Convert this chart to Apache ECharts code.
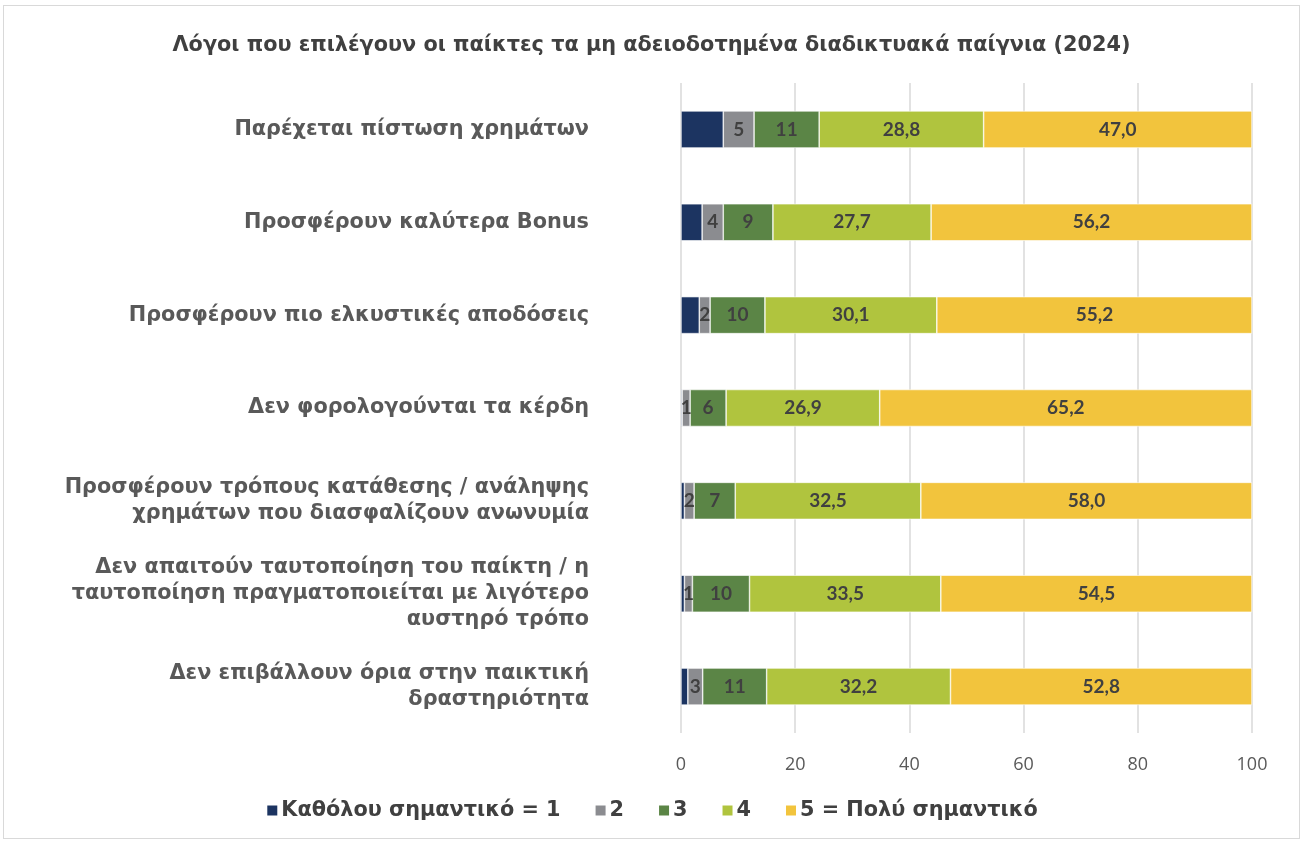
<!DOCTYPE html>
<html>
<head>
<meta charset="utf-8">
<script src="https://cdn.jsdelivr.net/npm/echarts@6/dist/echarts.min.js"></script>
<style>
  html, body { margin: 0; padding: 0; background: #fff; }
  #main { position: absolute; left: 3px; top: 5px; width: 1297px; height: 834px; border: 1px solid #d9d9d9; box-sizing: border-box; }
</style>
</head>
<body>
<div id="main"></div>
<script>
  // κατηγορίες (από πάνω προς τα κάτω)
  var categories = [
    'Παρέχεται πίστωση χρημάτων',
    'Προσφέρουν καλύτερα Bonus',
    'Προσφέρουν πιο ελκυστικές αποδόσεις',
    'Δεν φορολογούνται τα κέρδη',
    'Προσφέρουν τρόπους κατάθεσης / ανάληψης\nχρημάτων που διασφαλίζουν ανωνυμία',
    'Δεν απαιτούν ταυτοποίηση του παίκτη / η\nταυτοποίηση πραγματοποιείται με λιγότερο\nαυστηρό τρόπο',
    'Δεν επιβάλλουν όρια στην παικτική\nδραστηριότητα'
  ];
  var seriesNames = ['Καθόλου σημαντικό = 1', '2', '3', '4', '5 = Πολύ σημαντικό'];
  var s1 = [7.4, 3.7, 3.2, 0.2, 0.6, 0.6, 1.2];
  var s2 = [5.4, 3.7, 1.9, 1.4, 1.7, 1.4, 2.6];
  var s3 = [11.4, 8.7, 9.6, 6.3, 7.2, 10.0, 11.2];
  var s4 = [28.8, 27.7, 30.1, 26.9, 32.5, 33.5, 32.2];
  var s5 = [47.0, 56.2, 55.2, 65.2, 58.0, 54.5, 52.8];
  var colors = ['#1c3461', '#8b8c90', '#5b8546', '#b0c43e', '#f2c43d'];

  var chart = echarts.init(document.getElementById('main'));
  var font = '"DejaVu Sans", Verdana, sans-serif';

  function makeLabel(kind) {
    if (kind === 0) return { show: false };
    return {
      show: true,
      position: 'inside',
      color: '#404040',
      fontFamily: 'Lato, sans-serif',
      fontWeight: 'bold',
      fontSize: 19,
      formatter: function (p) {
        if (kind === 1) return Math.round(p.value).toString();
        return p.value.toFixed(1).replace('.', ',');
      }
    };
  }

  var dataSets = [s1, s2, s3, s4, s5];
  var series = dataSets.map(function (d, i) {
    return {
      name: seriesNames[i],
      type: 'bar',
      stack: 'total',
      barWidth: 37,
      data: d,
      itemStyle: { color: colors[i], borderColor: '#ffffff', borderWidth: 0.6 },
      label: makeLabel(i === 0 ? 0 : (i < 3 ? 1 : 2))
    };
  });

  chart.setOption({
    animation: false,
    title: {
      text: 'Λόγοι που επιλέγουν οι παίκτες τα μη αδειοδοτημένα διαδικτυακά παίγνια (2024)',
      left: 'center',
      top: 24,
      textStyle: { fontFamily: font, fontWeight: 'bold', fontSize: 20.8, color: '#404040' }
    },
    legend: {
      bottom: 12,
      left: 'center',
      itemWidth: 12,
      itemHeight: 12,
      itemGap: 33,
      icon: 'rect',
      textStyle: { fontFamily: font, fontWeight: 'bold', fontSize: 20.8, color: '#404040', padding: [0, 0, 0, -2] },
      data: seriesNames
    },
    grid: { left: 677, right: 47, top: 77, bottom: 105, containLabel: false },
    xAxis: {
      type: 'value',
      min: 0,
      max: 100,
      interval: 20,
      axisLine: { show: false },
      axisTick: { show: false },
      splitLine: { lineStyle: { color: '#d9d9d9', width: 1.5 } },
      axisLabel: { margin: 23, fontFamily: '"Open Sans", sans-serif', fontSize: 18, color: '#595959' }
    },
    yAxis: {
      type: 'category',
      inverse: true,
      data: categories,
      axisLine: { show: false },
      axisTick: { show: false },
      axisLabel: {
        margin: 92,
        align: 'right',
        fontFamily: font,
        fontWeight: 'bold',
        fontSize: 20.8,
        lineHeight: 26,
        color: '#595959'
      }
    },
    series: series
  });
</script>
</body>
</html>
